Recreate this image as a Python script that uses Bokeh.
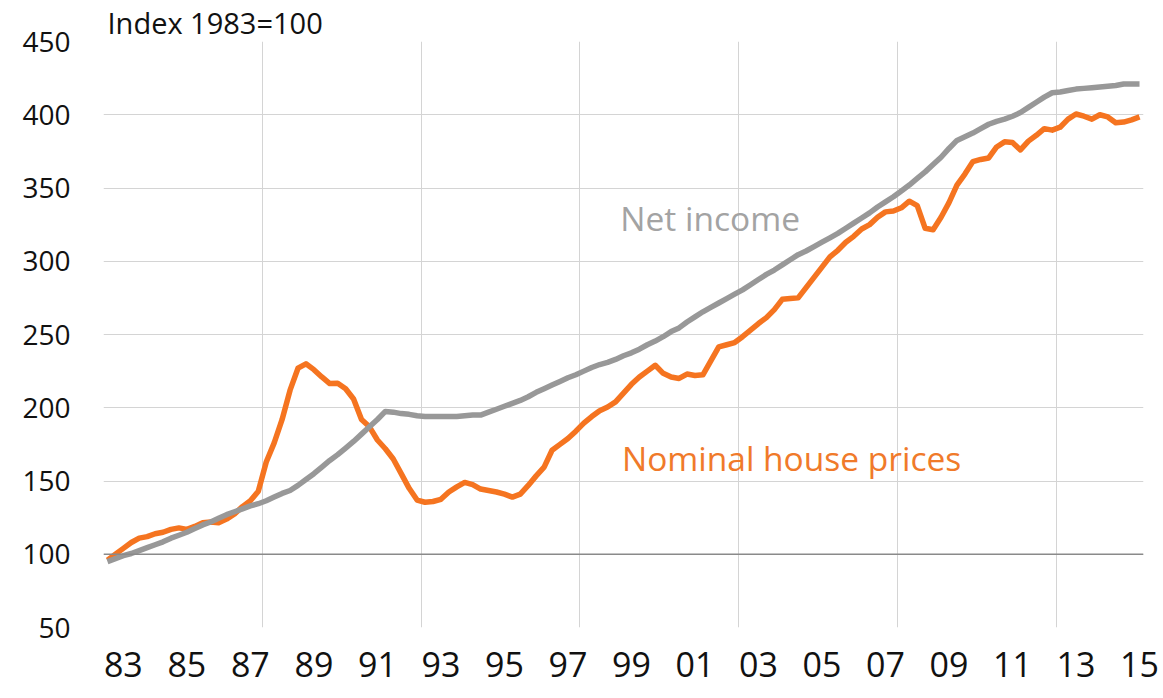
from bokeh.plotting import figure
from bokeh.models import FixedTicker, Span, Label
from bokeh.embed import file_html
from bokeh.resources import INLINE

# Quarterly data, 1983Q1 .. 2015Q3 (index 1983 = 100)
net_income = [
    95, 97, 99, 100.5, 102.5, 104.5, 106.5, 108.5, 111, 113,
    115, 117.5, 120, 122, 124.5, 127, 129, 131, 133, 134.5,
    136.5, 139, 141.5, 143.5, 147, 151, 155, 159.5, 164, 168,
    172.5, 177, 182, 187, 192, 197.5, 197, 196, 195.5, 194.5,
    194, 194, 194, 194, 194, 194.5, 195, 195, 197, 199,
    201, 203, 205, 207.5, 210.5, 213, 215.5, 218, 220.5, 222.5,
    225, 227.5, 229.5, 231, 233, 235.5, 237.5, 240, 243, 245.5,
    248.5, 252, 254.5, 258.5, 262, 265.5, 268.5, 271.5, 274.5, 277.5,
    280.5, 284, 287.5, 291, 294, 297.5, 301, 304.5, 307, 310,
    313, 316, 319, 322.5, 326, 329.5, 333, 337, 340.5, 344,
    348, 352, 356.5, 361, 366, 371, 377, 382.5, 385, 387.5,
    390.5, 393.5, 395.5, 397, 399, 401.5, 405, 408.5, 412, 415,
    415.5, 416.5, 417.5, 418, 418.5, 419, 419.5, 420, 421, 421,
    421,
]

house_prices = [
    96, 100, 104, 108, 111, 112, 114, 115, 117, 118,
    117, 119, 121.5, 122, 121.5, 124, 127.5, 132.5, 136.5, 143,
    163, 176, 192, 212, 227, 230, 226, 221, 216.5, 216.7,
    213, 206, 192, 187, 178, 172, 165, 155, 145, 137,
    135.5, 136, 137.5, 142.5, 146, 149, 147.5, 144.5, 143.5, 142.5,
    141, 139, 141, 147, 153.5, 159.5, 171, 175, 179, 184,
    189.5, 194, 198, 200.5, 204, 210, 216, 221, 225, 229,
    223.5, 221, 220, 223, 222, 222.5, 232, 241.5, 243, 244.5,
    248.5, 253, 257.5, 261.5, 267, 274, 274.5, 275, 282, 289,
    296, 303, 307.5, 313, 317, 322, 325, 330, 333.7, 334.3,
    336.5, 341, 338, 322.5, 321.5, 330, 340, 352, 359.5, 368,
    369.5, 370.5, 378, 381.5, 381, 376, 382, 386, 390.5, 389.5,
    391.5, 397, 400.5, 399, 397, 400, 398.5, 394.5, 395, 396.5,
    398.5,
]

year_labels = ["83", "85", "87", "89", "91", "93", "95", "97", "99",
               "01", "03", "05", "07", "09", "11", "13", "15"]
y_ticks = [50, 100, 150, 200, 250, 300, 350, 400, 450]

quarters = list(range(len(net_income)))
label_pos = [2 + 8 * k for k in range(len(year_labels))]
grid_pos = [-0.5 + 20 * k for k in range(7)]

FONT = "Open Sans"
ORANGE = "#F57420"
GREY = "#989898"

p = figure(frame_width=1040, frame_height=586,
           x_range=(-0.5, len(net_income) - 0.5), y_range=(50, 450),
           output_backend="svg", toolbar_location=None,
           min_border_left=103, min_border_right=20,
           min_border_top=41, min_border_bottom=71,
           outline_line_color=None,
           background_fill_color="white", border_fill_color="white")

# title used as the unit note above the plot
p.title.text = "Index 1983=100"
p.title.text_font = FONT
p.title.text_font_size = "29px"
p.title.text_font_style = "normal"
p.title.text_color = "#111111"
p.title.align = "left"
p.title.offset = 4
p.title.standoff = 0

# axes
p.xaxis.ticker = FixedTicker(ticks=label_pos)
p.xaxis.major_label_overrides = {pos: lab for pos, lab in zip(label_pos, year_labels)}
p.yaxis.ticker = FixedTicker(ticks=y_ticks)
for ax in (p.xaxis, p.yaxis):
    ax.axis_line_color = None
    ax.major_tick_line_color = None
    ax.minor_tick_line_color = None
    ax.major_tick_in = 0
    ax.major_tick_out = 0
    ax.major_label_text_font = FONT
    ax.major_label_text_color = "#111111"
p.xaxis.major_label_text_font_size = "34px"
p.xaxis.major_label_standoff = 24
p.yaxis.major_label_text_font_size = "28px"
p.yaxis.major_label_standoff = 33

# grids
p.xgrid.ticker = FixedTicker(ticks=grid_pos)
p.ygrid.ticker = FixedTicker(ticks=y_ticks)
p.xgrid.grid_line_color = "#D4D4D4"
p.ygrid.grid_line_color = "#D4D4D4"
p.xgrid.grid_line_width = 1
p.ygrid.grid_line_width = 1

p.add_layout(Span(location=100, dimension="width", line_color="#8A8A8A", line_width=1.4))

p.line(quarters, house_prices, line_color=ORANGE, line_width=5.5, line_join="round")
p.line(quarters, net_income, line_color=GREY, line_width=5.5, line_join="round")

p.add_layout(Label(x=64.6, y=329.4, text="Net income", text_font=FONT,
                   text_font_size="33.5px", text_color="#A3A3A3",
                   text_baseline="alphabetic"))
p.add_layout(Label(x=64.8, y=165.5, text="Nominal house prices", text_font=FONT,
                   text_font_size="33.5px", text_color="#F07A2A",
                   text_baseline="alphabetic"))

open("out.html", "w").write(file_html(p, INLINE))
